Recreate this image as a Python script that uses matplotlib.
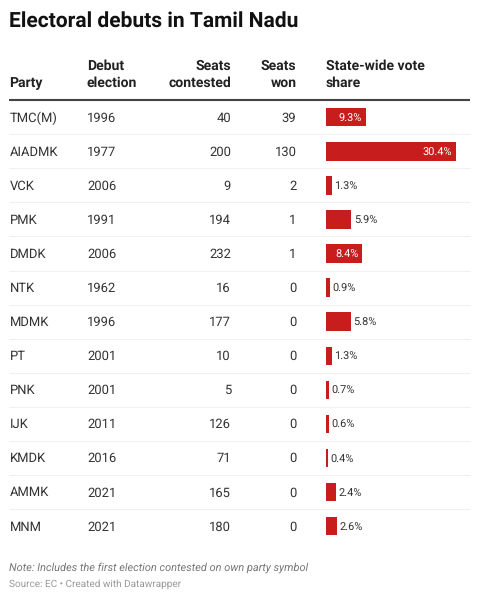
import matplotlib
matplotlib.use("Agg")
import matplotlib.pyplot as plt

parties = ["TMC(M)", "AIADMK", "VCK", "PMK", "DMDK", "NTK", "MDMK", "PT", "PNK", "IJK", "KMDK", "AMMK", "MNM"]
debut_years = [1996, 1977, 2006, 1991, 2006, 1962, 1996, 2001, 2001, 2011, 2016, 2021, 2021]
seats_contested = [40, 200, 9, 194, 232, 16, 177, 10, 5, 126, 71, 165, 180]
seats_won = [39, 130, 2, 1, 1, 0, 0, 0, 0, 0, 0, 0, 0]
vote_share = [9.3, 30.4, 1.3, 5.9, 8.4, 0.9, 5.8, 1.3, 0.7, 0.6, 0.4, 2.4, 2.6]
inside_from = 8.0

W, H = 479, 600
plt.rcParams['font.family'] = ['Roboto', 'DejaVu Sans']
plt.rcParams['text.hinting'] = 'no_hinting'
plt.rcParams['text.hinting_factor'] = 1
fig = plt.figure(figsize=(W / 100, H / 100), dpi=100, facecolor='white')
ax = fig.add_axes([0, 0, 1, 1])
ax.set_xlim(0, W)
ax.set_ylim(H, 0)
ax.axis('off')

INK = '#333333'
HEAD = '#222222'
X_PARTY, X_YEAR, X_CONT, X_WON, X_BAR, X_END = 9.5, 87, 231, 296.5, 326, 470
Y0, STEP = 117.2, 34.08
FS = 9.45
DY = 0.8

ax.text(9.5, 21, "Electoral debuts in Tamil Nadu", fontsize=14.85, fontweight='bold', color='#111111', va='center')

hy1, hy2 = 66, 83
hk = dict(fontsize=10, fontweight='bold', color=HEAD, va='center')
ax.text(X_PARTY, hy2, "Party", **hk)
ax.text(X_YEAR, hy1, "Debut", **hk)
ax.text(X_YEAR, hy2, "election", **hk)
ax.text(X_CONT, hy1, "Seats", ha='right', **hk)
ax.text(X_CONT, hy2, "contested", ha='right', **hk)
ax.text(X_WON, hy1, "Seats", ha='right', **hk)
ax.text(X_WON, hy2, "won", ha='right', **hk)
ax.text(X_BAR, hy1, "State-wide vote", **hk)
ax.text(X_BAR, hy2, "share", **hk)
ax.plot([X_PARTY, X_END], [99.5, 99.5], color='#444444', lw=1.5, solid_capstyle='butt')

n = len(parties)
for i in range(n):
    y = Y0 + i * STEP
    ax.text(X_PARTY, y + DY, parties[i], fontsize=FS, color=INK, va='center')
    ax.text(X_YEAR, y + DY, str(debut_years[i]), fontsize=FS, color=INK, va='center')
    ax.text(X_CONT, y + DY, str(seats_contested[i]), fontsize=FS, color=INK, va='center', ha='right')
    ax.text(X_WON, y + DY, str(seats_won[i]), fontsize=FS, color=INK, va='center', ha='right')
    if i < n - 1:
        ax.plot([X_PARTY, X_END], [y + STEP / 2] * 2, color='#f0f0f0', lw=0.8, solid_capstyle='butt')

# Bar column: its own axes, scaled so the longest bar spans 130 px
top = Y0 - STEP / 2
bax = fig.add_axes([X_BAR / W, 1 - (top + n * STEP) / H, 130 / W, n * STEP / H])
bax.set_xlim(0, max(vote_share))
bax.set_ylim(n - 0.5, -0.5)
bax.axis('off')
bax.patch.set_alpha(0)
bax.barh(range(n), vote_share, height=18.5 / STEP, color='#c71e1d', linewidth=0)
for i, v in enumerate(vote_share):
    if v >= inside_from:
        bax.annotate(f"{v}%", (v, i), xytext=(-2.6, -1), textcoords='offset points', ha='right', va='center',
                     fontsize=8.1, color='white', annotation_clip=False)
    else:
        bax.annotate(f"{v}%", (v, i), xytext=(1.8, -1), textcoords='offset points', ha='left', va='center',
                     fontsize=8.1, color=INK, annotation_clip=False)

ax.text(9.5, 567.5, "Note: Includes the first election contested on own party symbol", fontsize=8.0,
        style='italic', color='#777777', va='center')
ax.text(9.5, 584.5, "Source: EC • Created with Datawrapper", fontsize=7.1, color='#999999', va='center')

fig.savefig('out.png', dpi=100)
